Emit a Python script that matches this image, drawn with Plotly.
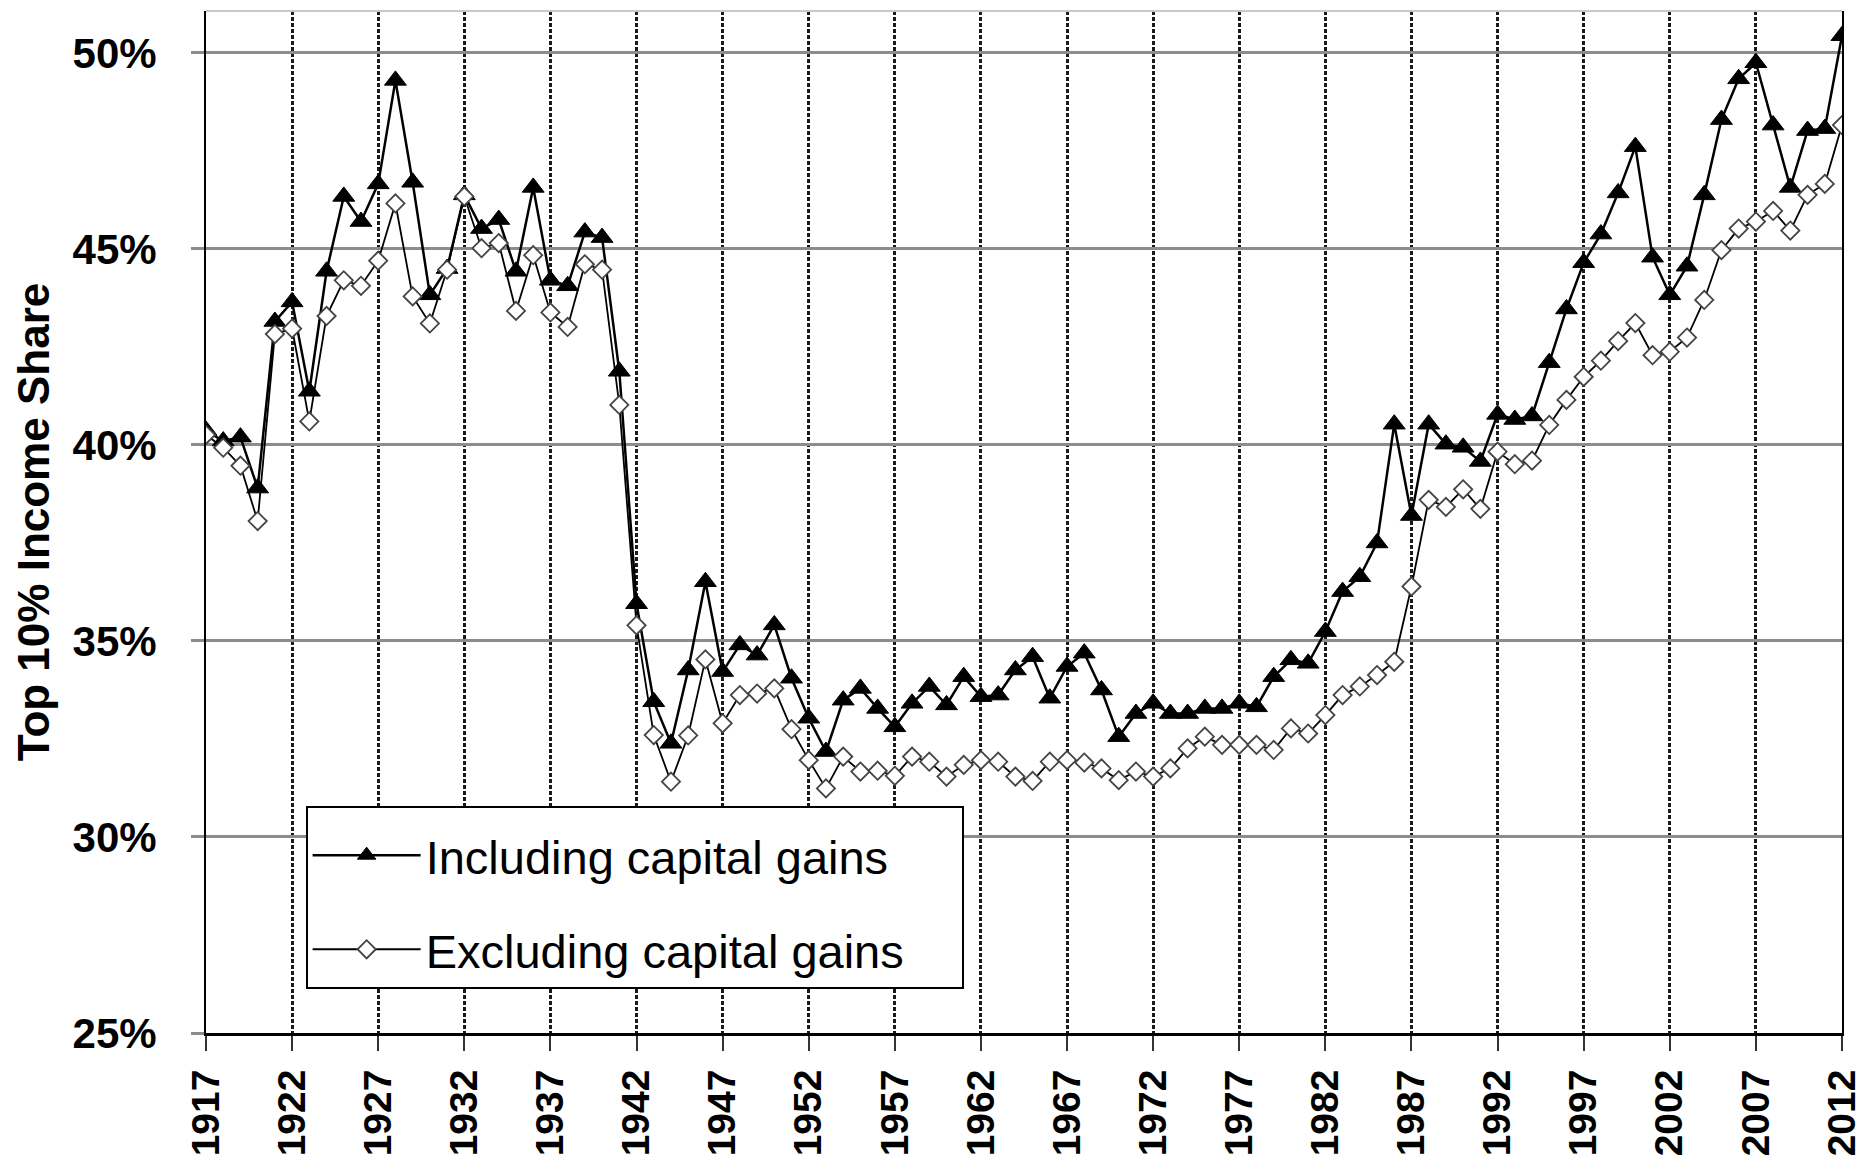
import plotly.graph_objects as go

years = list(range(1917, 2013))

incl_cap_gains = [
    40.37, 40.10, 40.20, 38.90, 43.15, 43.65, 41.37, 44.43, 46.34, 45.70,
    46.66, 49.30, 46.70, 43.83, 44.50, 46.38, 45.52, 45.75, 44.43, 46.57,
    44.20, 44.06, 45.43, 45.29, 41.88, 35.95, 33.45, 32.39, 34.26, 36.51,
    34.22, 34.90, 34.64, 35.41, 34.05, 33.03, 32.18, 33.49, 33.79, 33.28,
    32.81, 33.41, 33.84, 33.37, 34.09, 33.58, 33.62, 34.26, 34.60, 33.54,
    34.35, 34.69, 33.75, 32.56, 33.15, 33.41, 33.15, 33.15, 33.28, 33.28,
    33.41, 33.32, 34.09, 34.52, 34.43, 35.24, 36.26, 36.64, 37.50, 40.53,
    38.20, 40.53, 40.02, 39.94, 39.58, 40.78, 40.65, 40.74, 42.10, 43.47,
    44.65, 45.38, 46.43, 47.61, 44.79, 43.83, 44.56, 46.38, 48.30, 49.34,
    49.75, 48.16, 46.57, 48.02, 48.07, 50.44,
]

excl_cap_gains = [
    40.26, 39.93, 39.47, 38.06, 42.83, 42.97, 40.60, 43.29, 44.20, 44.06,
    44.70, 46.16, 43.79, 43.10, 44.47, 46.34, 45.02, 45.15, 43.42, 44.84,
    43.38, 43.01, 44.61, 44.47, 41.02, 35.40, 32.60, 31.41, 32.59, 34.53,
    32.90, 33.62, 33.66, 33.79, 32.75, 31.96, 31.24, 32.05, 31.67, 31.69,
    31.56, 32.05, 31.92, 31.54, 31.84, 31.96, 31.92, 31.54, 31.43, 31.92,
    31.96, 31.90, 31.75, 31.45, 31.67, 31.54, 31.75, 32.26, 32.56, 32.35,
    32.35, 32.35, 32.22, 32.77, 32.64, 33.11, 33.62, 33.84, 34.13, 34.47,
    36.39, 38.60, 38.42, 38.87, 38.37, 39.83, 39.51, 39.60, 40.51, 41.15,
    41.74, 42.15, 42.65, 43.11, 42.29, 42.38, 42.74, 43.70, 44.97, 45.52,
    45.70, 45.97, 45.47, 46.38, 46.66, 48.16,
]

y_ticks = [25, 30, 35, 40, 45, 50]
y_tick_labels = ["25%", "30%", "35%", "40%", "45%", "50%"]
x_ticks = list(range(1917, 2013, 5))

FONT = "Liberation Sans, Arial, sans-serif"
PAD = "\u00a0" * 4

fig = go.Figure()
fig.add_trace(go.Scatter(
    x=years, y=incl_cap_gains, name="Including capital gains" + PAD,
    mode="lines+markers", legendgroup="a",
    line=dict(color="black", width=2.5),
    marker=dict(symbol="triangle-up", size=19, color="black",
                line=dict(color="black", width=1)),
))
fig.add_trace(go.Scatter(
    x=years, y=excl_cap_gains, name="Excluding capital gains" + PAD,
    mode="lines+markers", legendgroup="b",
    line=dict(color="black", width=1.8),
    marker=dict(symbol="diamond", size=14, color="white",
                line=dict(color="#444444", width=1.8)),
))

# page body has an 8px default margin, so the figure is sized/offset to compensate
fig.update_layout(
    width=1862, height=1159, autosize=False,
    margin=dict(l=198, r=28, t=3, b=134, pad=0),
    paper_bgcolor="white", plot_bgcolor="white",
    font=dict(family=FONT, color="black"),
    showlegend=True,
    legend=dict(
        x=0.0609, y=0.2224, xanchor="left", yanchor="top",
        bgcolor="white", bordercolor="black", borderwidth=2,
        font=dict(family=FONT, size=47, color="black"),
        title=dict(text=" ", font=dict(size=8)),
        tracegroupgap=30, itemwidth=108,
    ),
    xaxis=dict(
        range=[1917, 2012], tickmode="array", tickvals=x_ticks,
        ticktext=[str(v) for v in x_ticks], automargin=False,
        tickangle=-90, ticks="outside", ticklen=15, tickwidth=2, tickcolor="#333333",
        showgrid=True, gridcolor="#1a1a1a", gridwidth=3, griddash="4px,2px",
        showline=True, linecolor="black", linewidth=3, zeroline=False,
        tickfont=dict(family=FONT, size=39, color="black", weight="bold"),
        ticklabelstandoff=3,
    ),
    yaxis=dict(
        range=[25, 51.07], tickmode="array", tickvals=y_ticks, ticktext=y_tick_labels,
        automargin=False,
        ticks="outside", ticklen=13, tickwidth=3, tickcolor="#8c8c8c",
        showgrid=True, gridcolor="#8c8c8c", gridwidth=3,
        showline=True, mirror=True, linecolor="black", linewidth=2, zeroline=False,
        tickfont=dict(family=FONT, size=42, color="black", weight="bold"),
        ticklabelstandoff=26,
        title=dict(text="Top 10% Income Share", standoff=9,
                   font=dict(family=FONT, size=44, color="black", weight="bold")),
    ),
    shapes=[dict(type="line", xref="paper", yref="paper", x0=0, x1=1, y0=1, y1=1,
                 line=dict(color="#c8c8c8", width=2))],
)

fig.write_html("out.html")
